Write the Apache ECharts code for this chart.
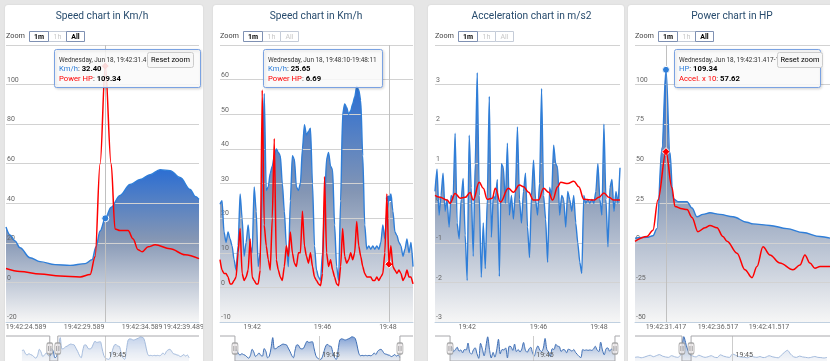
<!DOCTYPE html>
<html>
<head>
<meta charset="utf-8">
<script src="https://cdn.jsdelivr.net/npm/echarts@6.0.0/dist/echarts.min.js"></script>
<style>
html,body{margin:0;padding:0;}
body{width:830px;height:361px;overflow:hidden;background:#e6e6e6;position:relative;}
.card{position:absolute;top:5px;height:360px;background:#fff;border-radius:3px;box-shadow:0 0 2px rgba(0,0,0,0.10);overflow:hidden;}
</style>
</head>
<body>
<div class="card" style="left:5px;width:198px"><div id="c1" style="width:198px;height:360px"></div></div>
<div class="card" style="left:213px;width:201px"><div id="c2" style="width:201px;height:360px"></div></div>
<div class="card" style="left:428px;width:196px"><div id="c3" style="width:196px;height:360px"></div></div>
<div class="card" style="left:628px;width:210px"><div id="c4" style="width:210px;height:360px"></div></div>
<script>
const FONT = 'Roboto, "Noto Sans", Arial, sans-serif';
const BLUE = '#2f7ed8';
const RED = '#ff0000';
const NAV_LABEL = '19:45';
const RANGE_LABELS = ['1m', '1h', 'All'];

/* ---------- Chart 1: Speed chart in Km/h (seconds after 19:42:00) ---------- */
const c1Title = 'Speed chart in Km/h';
const c1SpeedTime = [22.865,23.21,23.64,24.07,24.93,25.80,27.09,28.38,29.68,30.28,30.62,30.97,31.417,31.92,32.69,33.55,34.42,35.28,36.14,37.0,37.86,38.73,39.16,39.489];
const c1SpeedKmh  = [28,24,21,17.5,12.5,10.5,9,8.6,9.5,11.5,18,26,32.4,38,44,49.5,52,54.5,57,56.5,53,47,43.5,42];
const c1PowerTime = [22.865,24.07,25.80,27.52,29.24,30.11,30.54,30.97,31.417,31.92,32.26,32.69,33.38,33.81,34.24,34.59,35.11,35.71,37.0,38.29,39.489];
const c1PowerHp   = [7,5.5,4.3,3.2,2.8,4,13,60,109.34,60,27,26.2,26.2,22,16.5,15.5,18,19,17,14,12];
const c1TickValues = [24.589, 29.589, 34.589, 39.489];
const c1TickLabels = ['19:42:24.589', '19:42:29.589', '19:42:34.589', '19:42:39.489'];
const c1HoverTime = 31.417;
const c1Header = 'Wednesday, Jun 18, 19:42:31.417-19:42:31.517';

/* ---------- Chart 2: Speed chart in Km/h (ordinal samples) ---------- */
const c2Title = 'Speed chart in Km/h';
const c2SpeedKmh = [24,25,16,13,16,14,12,8,5,12, 27,20,9,13,18,12,10,29,22,6, 10,30,56,28,29,33,35,38,40,39,
  38,30,22,12,6,25,38,37,29,28, 30,40,47,44,45,46,30,12,5,3, 2,10,24,37,39,35,34,18,6,2,
  25,50,53,52,50,51,53,55,58,57, 54,38,18,11,12,11,12,11,12,11, 13,18,14,22,25.65,27,22,16,15,13, 12,9,11,14,10,13,6];
const c2PowerHp = [8,5,4,4,3,1,1,2,3,10, 17,4,2,3,5,14,3,2,1,1, 5,57,18,12,8,5,20,43,8,5,
  3,2,6,12,9,16,10,7,6,10, 10,22,12,9,7,10,6,3,2,1, 0.5,4,32,10,6,8,5,3,1,0.5,
  6,17,9,7,8,10,8,10,19,12, 9,6,4,3,3,3,2,2,3,2, 3,4,10,27,6.69,12,6,5,4,5, 4,2,3,5,3,3,1];
const c2TickIndex = [16, 51, 83.5];
const c2TickLabels = ['19:42', '19:46', '19:48'];
const c2HoverIndex = 84;
const c2Header = 'Wednesday, Jun 18, 19:48:10-19:48:11';

/* ---------- Chart 3: Acceleration chart in m/s2 ---------- */
const c3Title = 'Acceleration chart in m/s2';
const c3Accel = [0.3,0.86,-0.3,0.2,0.76,-0.2,0.1,-0.6,0.2,0.1, 1.77,-0.5,-0.9,0.1,0.63,-0.8,-1.95,1.72,0.4,-1.34,
  1.0,3.3,0.2,-1.87,-0.5,-1.65,0.1,2.7,-0.86,0.2, 0.1,0.6,-1.85,1.0,0.9,0.0,1.52,-0.3,0.2,-0.4,
  0.3,1.93,0.1,-0.5,0.3,0.76,-0.6,-1.37,0.2,1.09, 0.1,-0.3,0.5,2.9,0.2,-0.4,-1.49,0.4,0.2,1.47,
  1.0,0.9,-0.3,0.2,0.1,-0.6,0.3,0.1,-0.2,0.2, -0.5,-1.0,-1.49,-1.77,0.2,0.0,0.1,0.0,0.1,0.0,
  0.3,1.0,0.1,-0.3,2.0,0.1,-1.1,0.4,0.6,-0.2, 0.3,0.0,0.9];
const c3AvgIndex = [0,2.5,6,7.5,10,12.5,15,17.5,19,22,24,26,28.5,30,32.5,36.5,39,42,44,46.5,49,51.5,54,56.5,58.5,61,62.5,66,69,71.5,74,79,81.5,84,86.5,89,92];
const c3AvgValue = [0.2,0.15,0.08,0,0.25,0.13,0.15,0.27,0.08,0.53,0.38,0.1,0.13,0.38,0.03,0.38,0.28,0.46,0.42,0.28,0.08,0.08,0.38,0.28,0.08,0.42,0.53,0.5,0.56,0.42,0.1,0.08,0.15,0.26,0.15,0.08,0.08];
const c3TickIndex = [16, 51.5, 81.5];
const c3TickLabels = ['19:42', '19:46', '19:48'];

/* ---------- Chart 4: Power chart in HP (seconds after 19:42:00) ---------- */
const c4Title = 'Power chart in HP';
const c4PowerTime = [28.38,29.55,30.14,30.53,31.02,31.417,31.81,32.1,32.59,33.48,33.97,34.46,35.04,35.73,36.71,37.99,39.36,39.95,41.61,43.28,44.85,46.52,47.5];
const c4PowerHp   = [3,3.5,4.5,9,60,109.34,57,28,26,26,22,16.5,18,19,18,16.5,13,12,11,9,6.5,4,3];
const c4AccelTime = [28.38,29.55,30.14,30.63,31.417,32.0,32.3,32.99,33.48,33.97,34.55,35.24,35.73,36.42,37.0,37.4,38.38,39.16,39.85,40.34,40.93,41.61,42.59,43.87,44.55,45.04,45.53,46.02,46.52,47.5];
const c4AccelX10  = [1,4,8,27,57.62,35,23,21.5,21,16,7,9.5,11,9.5,4,1,-6.5,-17,-22,-15,-2.5,-7.6,-12.7,-17,-14,-7.6,-12.7,-16,-15,-15];
const c4TickValues = [31.417, 36.517, 41.517];
const c4TickLabels = ['19:42:31.417', '19:42:36.517', '19:42:41.517'];
const c4HoverTime = 31.417;
const c4Header = 'Wednesday, Jun 18, 19:42:31.417-19:42:31.517';

/* ---------- Navigator series (full range) ---------- */
const navPowerHp = [12,14,10,13,18,22,15,20,25,18,14,12,20,15,12,25,109,60,26,18,14,22,16,12,
  15,20,13,11,24,18,14,12,28,22,16,13,12,10,18,14,12,16,11,13,20,15,12,10,
  22,35,45,28,15,12,18,14,12,10,13,16,12,11,9,12];

function pairs(xs, ys) { return xs.map((x, i) => [x, ys[i]]); }
function indexed(ys) { return ys.map((y, i) => [i, y]); }
function valueAt(xs, ys, x) { return ys[xs.indexOf(x)]; }

const areaFill = {type:'linear', x:0, y:0, x2:0, y2:1, colorStops:[
  {offset:0, color:'#2c6ed2'}, {offset:0.45, color:'#8496b4'}, {offset:1, color:'#f6f6f6'}]};
const navFill = {type:'linear', x:0, y:0, x2:0, y2:1, colorStops:[
  {offset:0, color:'rgba(40,95,185,0.85)'}, {offset:1, color:'rgba(190,200,215,0.5)'}]};

function tickFormatter(values, labels, rightAlignLast) {
  return function (v) {
    for (let i = 0; i < values.length; i++) {
      if (Math.abs(values[i] - v) < 1e-6) {
        if (rightAlignLast && i === values.length - 1) return '{t|' + labels[i] + '}{s|}';
        return '{t|' + labels[i] + '}';
      }
    }
    return '';
  };
}

function build(cfg) {
  const chart = echarts.init(document.getElementById(cfg.id), null, {renderer:'canvas', width:cfg.width, height:360});
  const yMainLabel = {inside:true, showMaxLabel:false, showMinLabel:true, verticalAlign:'bottom', padding:[0,0,1,0], margin:1,
    fontSize:7, color:'#666', fontFamily:FONT};
  const series = [];
  const hov = cfg.hover;
  // blue area (fill only)
  series.push({
    type:'line', xAxisIndex:0, yAxisIndex:0, data:cfg.s1, smooth:cfg.smooth, smoothMonotone:'x',
    symbol:'none', silent:true, z:2, lineStyle:{width:0}, areaStyle:{origin:'start', color:areaFill, opacity:1}
  });
  // blue line
  series.push({
    type:'line', xAxisIndex:0, yAxisIndex:0, data:cfg.s1, smooth:cfg.smooth, smoothMonotone:'x',
    symbol:'none', silent:true, z:7, lineStyle:{color:BLUE, width:1.4},
    markPoint: hov ? {silent:true, animation:false, label:{show:false},
      data:[{coord:[hov.x, hov.y1], symbol:'circle', symbolSize:7, itemStyle:{color:BLUE, borderColor:'#fff', borderWidth:1}}]} : undefined
  });
  series.push({
    type:'line', xAxisIndex:0, yAxisIndex:0, data:cfg.s2, smooth:cfg.smooth2, smoothMonotone:'x',
    symbol:'none', silent:true, z:8,
    lineStyle:{color:RED, width:1.5},
    markLine: hov ? {silent:true, animation:false, symbol:['none','none'], label:{show:false},
      lineStyle:{color:'#c0c0c0', width:1, type:'solid'}, data:[{xAxis:hov.x}]} : undefined,
    markPoint: hov ? {silent:true, animation:false, label:{show:false},
      data:[{coord:[hov.x, hov.y2], symbol:'diamond', symbolSize:8, itemStyle:{color:RED, borderColor:'#fff', borderWidth:1}}]} : undefined
  });
  // navigator
  const nv = cfg.nav;
  const yTop = nv.yMax, yBot = nv.yMin, yMid = (nv.yMax + nv.yMin) / 2;
  series.push({
    type:'line', xAxisIndex:1, yAxisIndex:1, data:nv.data, smooth:0.3, symbol:'none', silent:true, z:2,
    lineStyle:{color:'#3f6fb5', width:1}, areaStyle:{origin:'start', color:navFill},
    markLine:{silent:true, animation:false, symbol:['none','none'], label:{show:false},
      lineStyle:{color:'#cccccc', width:1, type:'solid'}, data:[{xAxis:nv.tick}]}
  });
  [[nv.min, nv.selA], [nv.selB, nv.max]].forEach(function (r) {
    series.push({type:'line', xAxisIndex:1, yAxisIndex:1, data:[[r[0], yTop], [r[1], yTop]], symbol:'none', silent:true, z:4,
      lineStyle:{width:0}, areaStyle:{origin:'start', color:'rgba(255,255,255,0.75)'}});
  });
  series.push({type:'line', xAxisIndex:1, yAxisIndex:1, symbol:'none', silent:true, z:5, clip:false,
    data:[[nv.min, yTop], [nv.selA, yTop], [nv.selA, yBot], [nv.selB, yBot], [nv.selB, yTop], [nv.max, yTop]],
    lineStyle:{color:'#a8a8ac', width:1}});
  series.push({type:'scatter', xAxisIndex:1, yAxisIndex:1, silent:true, z:6, clip:false,
    data:[[nv.selA, yMid], [nv.selB, yMid]], symbol:'roundRect', symbolSize:[6, 11],
    itemStyle:{color:'#ebe7e8', borderColor:'#999', borderWidth:1}});
  series.push({type:'scatter', xAxisIndex:1, yAxisIndex:1, silent:true, z:7, clip:false,
    data:[[nv.selA, yMid], [nv.selB, yMid]], symbol:'path://M0,0H1V10H0Z M3,0H4V10H3Z', symbolSize:[3, 5],
    itemStyle:{color:'#777'}});

  // overlay graphics
  const els = [];
  els.push({type:'text', x:cfg.titleX, y:11, z:100, style:{text:cfg.title, fontSize:10.2, fontFamily:FONT,
    fill:'#274b6d', align:'center', verticalAlign:'middle'}});
  els.push({type:'text', x:cfg.left, y:31.5, z:100, style:{text:'Zoom', fontSize:7.3, fontFamily:FONT,
    fill:'#444', align:'left', verticalAlign:'middle'}});
  const bw = [19, 18, 18];
  let bx = cfg.left + 23;
  RANGE_LABELS.forEach(function (t, i) {
    const on = cfg.buttons[i];
    els.push({type:'rect', z: on ? 102 : 101, shape:{x:bx + 0.5, y:26.5, width:bw[i], height:10},
      style:{fill:'#fff', stroke: on ? '#7f91b3' : '#c5ccd8', lineWidth:1}});
    els.push({type:'text', z:103, x:bx + bw[i] / 2 + 0.5, y:31.8, style:{text:t, fontSize:7, fontFamily:FONT,
      fontWeight: on ? 'bold' : 'normal', fill: on ? '#000' : '#c8c8c8', align:'center', verticalAlign:'middle'}});
    bx += bw[i];
  });
  if (cfg.tip) {
    const tp = cfg.tip;
    els.push({type:'rect', z:110, shape:{x:tp.x + 0.5, y:44.5, width:tp.w, height:38, r:2},
      style:{fill:'rgba(255,255,255,0.85)', stroke:'#7aa2e2', lineWidth:1,
        shadowBlur:3, shadowOffsetX:1, shadowOffsetY:1, shadowColor:'rgba(0,0,0,0.18)'}});
    els.push({type:'text', z:111, x:tp.x + 5, y:55, style:{text:tp.header, fontSize:6.4, fontFamily:FONT,
      fill:'#333', align:'left', verticalAlign:'middle'}});
    tp.rows.forEach(function (r, i) {
      els.push({type:'text', z:111, x:tp.x + 5, y:64.5 + i * 10, style:{
        text:'{n|' + r[0] + '}{c|: }{v|' + r[2] + '}', fontFamily:FONT, fontSize:7.7, align:'left', verticalAlign:'middle',
        rich:{n:{fill:r[1], fontSize:7.7, fontFamily:FONT}, c:{fill:'#333', fontSize:7.7, fontFamily:FONT},
              v:{fill:'#000', fontWeight:'bold', fontSize:7.7, fontFamily:FONT}}}});
    });
  }
  if (cfg.reset) {
    const rs = cfg.reset;
    els.push({type:'rect', z:120, shape:{x:rs.x + 0.5, y:47.5, width:rs.w, height:15, r:2},
      style:{fill:'#f7f7f7', stroke:'#cccccc', lineWidth:1}});
    els.push({type:'text', z:121, x:rs.x + rs.w / 2 + 0.5, y:55, style:{text:'Reset zoom', fontSize:7.4, fontFamily:FONT,
      fill:'#000', align:'center', verticalAlign:'middle'}});
  }

  const option = {
    animation:false,
    textStyle:{fontFamily:FONT},
    grid:[
      {left:cfg.left, right:cfg.right, top:40, height:277, containLabel:false, outerBoundsMode:'none'},
      {left:cfg.left, right:cfg.right, top:331, height:25, containLabel:false, outerBoundsMode:'none'}
    ],
    xAxis:[
      {type:'value', gridIndex:0, min:cfg.xMin, max:cfg.xMax, z:5,
        axisLine:{show:true, onZero:false, lineStyle:{color:'#c0d0e0', width:1}},
        axisTick:{show:false}, splitLine:{show:false},
        axisLabel:{customValues:cfg.ticks, formatter:tickFormatter(cfg.ticks, cfg.tickLabels, cfg.alignLast),
          showMaxLabel:true, showMinLabel:true,
          margin:2, fontSize:7, color:'#666', fontFamily:FONT, hideOverlap:false,
          rich:{t:{fontSize:7, color:'#666', fontFamily:FONT}, s:{width:31}}}},
      {type:'value', gridIndex:1, min:nv.min, max:nv.max, z:10,
        axisLine:{show:false, onZero:false}, axisTick:{show:false}, splitLine:{show:false},
        axisLabel:{inside:true, customValues:[nv.tick], formatter:function(){return NAV_LABEL;},
          align:'left', verticalAlign:'bottom', padding:[0,0,0,3], margin:2, fontSize:7, color:'#555', fontFamily:FONT}}
    ],
    yAxis:[
      {type:'value', gridIndex:0, min:cfg.yMin, max:cfg.yMax, interval:cfg.yStep, z:5,
        axisLine:{show:false}, axisTick:{show:false}, axisLabel:yMainLabel,
        splitLine:{show:true, lineStyle:{color:'#d2d2d2', width:1}}},
      {type:'value', gridIndex:1, min:nv.yMin, max:nv.yMax, show:false, splitLine:{show:false}}
    ],
    series:series,
    graphic:{elements:els}
  };
  chart.setOption(option);
}

/* ---------- chart configs ---------- */
build({
  id:'c1', width:198, left:1, right:4, title:c1Title, titleX:97, buttons:[true,false,true],
  xMin:22.865, xMax:39.489, ticks:c1TickValues, tickLabels:c1TickLabels, alignLast:true,
  yMin:-20, yMax:120, yStep:20,
  s1:pairs(c1SpeedTime, c1SpeedKmh), s2:pairs(c1PowerTime, c1PowerHp), smooth:0.35, smooth2:0.35,
  hover:{x:c1HoverTime, y1:valueAt(c1SpeedTime, c1SpeedKmh, c1HoverTime), y2:valueAt(c1PowerTime, c1PowerHp, c1HoverTime)},
  nav:{data:indexed(c2SpeedKmh), min:-9.14, max:101.7, yMin:-2, yMax:60, selA:16, selB:20.6, tick:48},
  tip:{x:49, w:146, header:c1Header, rows:[
    ['Km/h', BLUE, valueAt(c1SpeedTime, c1SpeedKmh, c1HoverTime).toFixed(2)],
    ['Power HP', RED, valueAt(c1PowerTime, c1PowerHp, c1HoverTime).toFixed(2)]]},
  reset:{x:142, w:46}
});
build({
  id:'c2', width:201, left:7, right:1, title:c2Title, titleX:103, buttons:[true,false,false],
  xMin:0, xMax:c2SpeedKmh.length - 1, ticks:c2TickIndex, tickLabels:c2TickLabels, alignLast:false,
  yMin:-10, yMax:70, yStep:10,
  s1:indexed(c2SpeedKmh), s2:indexed(c2PowerHp), smooth:0.25, smooth2:0.2,
  hover:{x:c2HoverIndex, y1:c2SpeedKmh[c2HoverIndex], y2:c2PowerHp[c2HoverIndex]},
  nav:{data:indexed(c2SpeedKmh), min:-8.7, max:103.6, yMin:-2, yMax:60, selA:0, selB:c2SpeedKmh.length - 1, tick:49},
  tip:{x:50, w:119, header:c2Header, rows:[
    ['Km/h', BLUE, c2SpeedKmh[c2HoverIndex].toFixed(2)],
    ['Power HP', RED, c2PowerHp[c2HoverIndex].toFixed(2)]]}
});
build({
  id:'c3', width:196, left:7, right:4, title:c3Title, titleX:103.5, buttons:[true,false,false],
  xMin:0, xMax:c3Accel.length - 1, ticks:c3TickIndex, tickLabels:c3TickLabels, alignLast:false,
  yMin:-3, yMax:4, yStep:1,
  s1:indexed(c3Accel), s2:pairs(c3AvgIndex, c3AvgValue), smooth:0.2, smooth2:0.4,
  nav:{data:indexed(c3Accel), min:-8.4, max:94.8, yMin:-2.6, yMax:3.5, selA:0, selB:c3Accel.length - 1, tick:46.4}
});
build({
  id:'c4', width:210, left:7, right:8, title:c4Title, titleX:104, buttons:[true,false,true],
  xMin:28.38, xMax:47.5, ticks:c4TickValues, tickLabels:c4TickLabels, alignLast:false,
  yMin:-50, yMax:125, yStep:25,
  s1:pairs(c4PowerTime, c4PowerHp), s2:pairs(c4AccelTime, c4AccelX10), smooth:0.35, smooth2:0.35,
  hover:{x:c4HoverTime, y1:valueAt(c4PowerTime, c4PowerHp, c4HoverTime), y2:valueAt(c4AccelTime, c4AccelX10, c4HoverTime)},
  nav:{data:indexed(navPowerHp), min:0, max:63.98, yMin:-5, yMax:112, selA:15.4, selB:18.4, tick:32},
  tip:{x:46, w:146, header:c4Header, rows:[
    ['HP', BLUE, valueAt(c4PowerTime, c4PowerHp, c4HoverTime).toFixed(2)],
    ['Accel. x 10', RED, valueAt(c4AccelTime, c4AccelX10, c4HoverTime).toFixed(2)]]},
  reset:{x:149, w:45}
});
</script>
</body>
</html>
